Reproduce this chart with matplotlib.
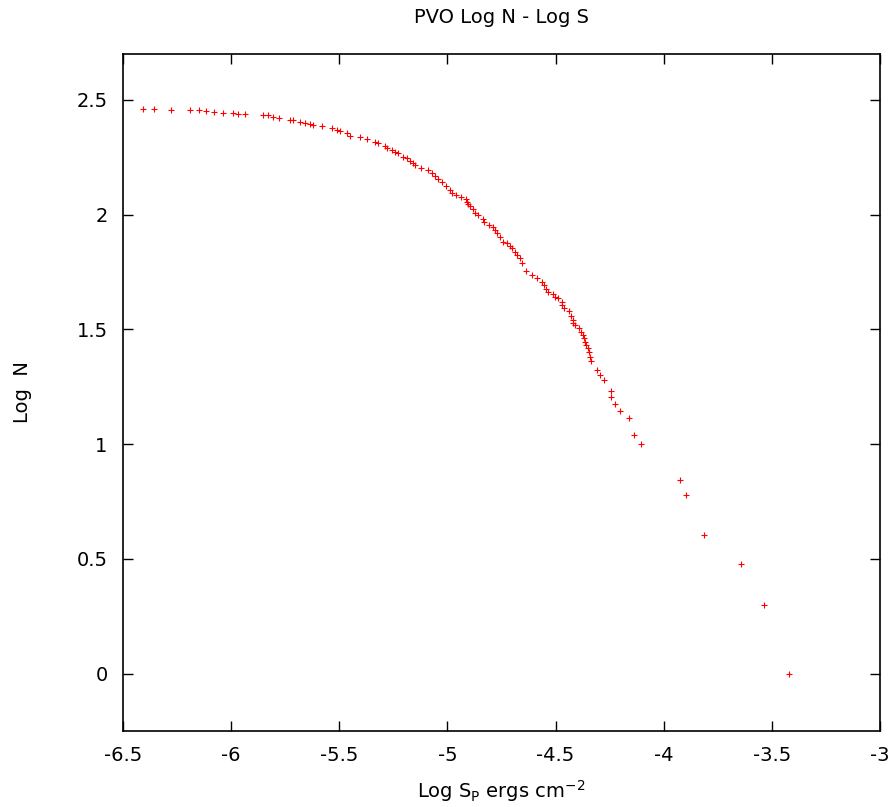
import numpy as np
import matplotlib
matplotlib.use('Agg')
import matplotlib.pyplot as plt

# log S (ergs cm^-2) and log N
log_s = [-6.409, -6.357, -6.279, -6.190, -6.150, -6.116, -6.078, -6.039, -5.990, -5.967,
         -5.936, -5.854, -5.828, -5.805, -5.777, -5.728, -5.713, -5.682, -5.659, -5.635,
         -5.623, -5.581, -5.535, -5.512, -5.497, -5.466, -5.451, -5.404, -5.373, -5.335,
         -5.320, -5.289, -5.281, -5.258, -5.243, -5.227, -5.207, -5.188, -5.173, -5.161,
         -5.150, -5.122, -5.089, -5.073, -5.058, -5.042, -5.027, -5.007, -4.988,
         -4.980, -4.960, -4.939, -4.914, -4.908, -4.904, -4.896, -4.880, -4.873, -4.857,
         -4.834, -4.831, -4.807, -4.788, -4.780, -4.772, -4.757, -4.742, -4.723, -4.711,
         -4.703, -4.688, -4.680, -4.665, -4.657, -4.637, -4.611, -4.587,
         -4.564, -4.554, -4.544, -4.534, -4.511, -4.503, -4.488, -4.472, -4.472, -4.460,
         -4.437, -4.430, -4.421, -4.418, -4.410, -4.390, -4.384, -4.375, -4.367, -4.364,
         -4.359, -4.349, -4.344, -4.341, -4.336, -4.310, -4.293,
         -4.275, -4.244, -4.244, -4.224, -4.201, -4.162, -4.138, -4.105,
         -3.925, -3.899, -3.814, -3.644, -3.535, -3.422]
log_n = [2.461, 2.461, 2.456, 2.456, 2.454, 2.452, 2.448, 2.445, 2.442, 2.439,
         2.438, 2.433, 2.432, 2.427, 2.420, 2.414, 2.413, 2.405, 2.401, 2.394,
         2.390, 2.387, 2.377, 2.369, 2.366, 2.355, 2.344, 2.340, 2.329, 2.315,
         2.311, 2.299, 2.289, 2.282, 2.274, 2.267, 2.253, 2.246, 2.235, 2.226,
         2.216, 2.205, 2.195, 2.183, 2.168, 2.154, 2.144, 2.125, 2.107,
         2.096, 2.086, 2.076, 2.067, 2.056, 2.046, 2.038, 2.023, 2.008, 1.998,
         1.979, 1.968, 1.955, 1.945, 1.933, 1.918, 1.901, 1.882, 1.875, 1.863,
         1.853, 1.838, 1.824, 1.809, 1.790, 1.755, 1.736, 1.722,
         1.707, 1.693, 1.678, 1.664, 1.652, 1.642, 1.635, 1.620, 1.606, 1.591,
         1.579, 1.558, 1.543, 1.528, 1.517, 1.507, 1.489, 1.475, 1.463, 1.445,
         1.431, 1.417, 1.402, 1.380, 1.361, 1.325, 1.300,
         1.278, 1.230, 1.204, 1.176, 1.146, 1.114, 1.041, 1.000,
         0.845, 0.778, 0.602, 0.477, 0.301, 0.000]

xticks = [-6.5, -6, -5.5, -5, -4.5, -4, -3.5, -3]
xticklabels = ['-6.5', '-6', '-5.5', '-5', '-4.5', '-4', '-3.5', '-3']
yticks = [0, 0.5, 1, 1.5, 2, 2.5]
yticklabels = ['0', '0.5', '1', '1.5', '2', '2.5']

plt.rcParams['font.family'] = 'DejaVu Sans'
plt.rcParams['mathtext.fontset'] = 'dejavusans'

fig = plt.figure(figsize=(8.93, 8.07), dpi=100)
ax = fig.add_axes([0.1377, 0.0942, 0.8477, 0.8389])

ax.plot(log_s, log_n, linestyle='none', marker='+', color='red',
        markersize=4, markeredgewidth=0.8)

ax.set_xlim(-6.5, -3)
ax.set_ylim(-0.25, 2.7)
ax.set_xticks(xticks)
ax.set_xticklabels(xticklabels)
ax.set_yticks(yticks)
ax.set_yticklabels(yticklabels)
ax.tick_params(direction='in', length=7, width=1, top=True, right=True,
               labelsize=14, pad=11)
for sp in ax.spines.values():
    sp.set_linewidth(1.2)

ax.set_title('PVO Log N - Log S', fontsize=14, pad=22)
ax.set_xlabel(r'Log S$_\mathrm{P}$ ergs cm$^{-2}$', fontsize=14, labelpad=9)
ax.set_ylabel('Log  N', fontsize=14, labelpad=32)

fig.savefig('out.png', dpi=100)
